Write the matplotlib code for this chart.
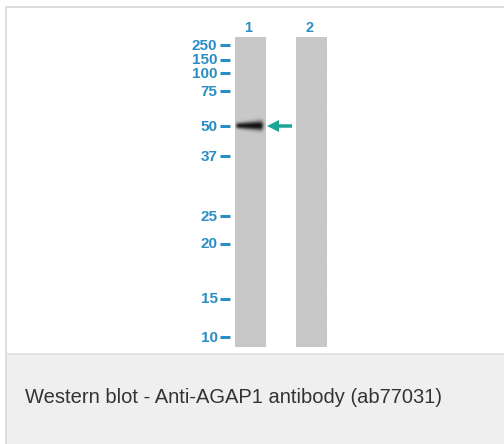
import numpy as np
import matplotlib
matplotlib.use("Agg")
import matplotlib.pyplot as plt
from matplotlib.patches import Rectangle, FancyArrow

# ---- data ----
mw_labels = ["250", "150", "100", "75", "50", "37", "25", "20", "15", "10"]
mw_migration = [45, 60, 73, 91, 126, 156, 216, 243.5, 298.5, 337]  # position on blot (px from top)
lane_labels = ["1", "2"]
lane_band_pos = [126, None]       # band position per lane
lane_band_intensity = [1.0, 0.0]  # relative band intensity
caption = "Western blot - Anti-AGAP1 antibody (ab77031)"

BLUE = "#2a8dc5"
TEAL = "#1aa596"
LANE_GRAY = 0.785

fig = plt.figure(figsize=(5.04, 4.44), dpi=100)
ax = fig.add_axes([0, 0, 1, 1])
ax.set_xlim(0, 504)
ax.set_ylim(444, 0)
ax.axis("off")
fig.patch.set_facecolor("white")

# frame and caption background
ax.add_patch(Rectangle((5, 354), 499, 90, facecolor="#eeefee", edgecolor="none", zorder=0))
ax.add_patch(Rectangle((5, 6), 2, 438, facecolor="#dddddd", edgecolor="none", zorder=1))
ax.add_patch(Rectangle((5, 6), 499, 2, facecolor="#dddddd", edgecolor="none", zorder=1))
ax.add_patch(Rectangle((5, 353), 499, 1.5, facecolor="#e2e2e2", edgecolor="none", zorder=1))

lane_x = [234.5, 295.7]
lane_w = 31
lane_top, lane_bot = 37.7, 346.7

for i, (lx, lab) in enumerate(zip(lane_x, lane_labels)):
    H, W = 900, 90
    ys = np.linspace(lane_top, lane_bot, H)
    xs = np.linspace(0, 1, W)
    img = np.full((H, W), LANE_GRAY)
    if lane_band_pos[i] is not None and lane_band_intensity[i] > 0:
        sig = 2.6 + 2.0 * np.clip(xs / 0.8, 0, 1)
        yy = np.exp(-np.abs((ys[:, None] - lane_band_pos[i]) / sig[None, :]) ** 2.2)
        xprof = 1.0 / (1 + np.exp(-(xs - 0.04) / 0.025))
        xprof *= 1.0 / (1 + np.exp((xs - 0.9) / 0.03))
        xprof *= (0.85 + 0.15 * xs)
        dark = lane_band_intensity[i] * yy * xprof[None, :]
        img = LANE_GRAY * (1 - 0.97 * dark)
    ax.imshow(img, cmap="gray", vmin=0, vmax=1, extent=(lx, lx + lane_w, lane_bot, lane_top),
              aspect="auto", interpolation="bilinear", zorder=2)
    ax.text(lx + lane_w / 2 - 2, 27.5, lab, color=BLUE, fontsize=10.5, family="Liberation Sans",
            fontweight="bold", ha="center", va="center", zorder=3)

for lab, y in zip(mw_labels, mw_migration):
    ax.plot([219.5, 230], [y, y], color=BLUE, lw=2.2, solid_capstyle="butt", zorder=3)
    ax.text(217.5, y + 0.5, lab, color=BLUE, fontsize=11, family="Liberation Sans",
            fontweight="bold", ha="right", va="center", zorder=3)

# arrow pointing to the band
ax.add_patch(FancyArrow(292, lane_band_pos[0], -25, 0, width=3.5, head_width=12,
                        head_length=12, length_includes_head=True, color=TEAL, lw=0, zorder=3))

ax.text(25, 397, caption, color="#333333", fontsize=14.5, family="Liberation Sans",
        ha="left", va="center", zorder=3)

fig.savefig("out.png", dpi=100)
